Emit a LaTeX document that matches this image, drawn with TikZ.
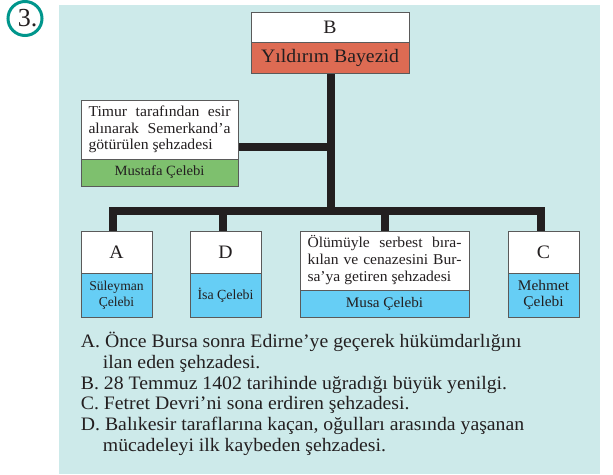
\documentclass[tikz,border=0pt]{standalone}
\usepackage{fontspec}
\setmainfont{Liberation Serif}[FakeStretch=1.04]
\newfontfamily\narrowfont{Liberation Serif}
\usetikzlibrary{backgrounds}
\definecolor{panel}{RGB}{205,234,234}
\definecolor{bred}{RGB}{221,107,83}
\definecolor{bgreen}{RGB}{126,192,110}
\definecolor{bblue}{RGB}{102,206,245}
\definecolor{conncol}{RGB}{35,31,32}
\definecolor{boxgray}{RGB}{90,90,90}
\definecolor{tealnum}{RGB}{0,150,140}
\definecolor{txt}{RGB}{35,31,32}
\begin{document}
\begin{tikzpicture}[x=1pt,y=-1pt,
  box/.style={draw=boxgray,line width=0.8pt,inner sep=0pt,outer sep=0pt,anchor=center,text=txt},
  conn/.style={draw=conncol,line width=8pt,line join=miter,line cap=butt},
  label/.style={font=\fontsize{19}{21}\selectfont},
  qline/.style={anchor=base west,inner sep=0pt,text=txt,font=\fontsize{19}{20.8}\selectfont},
]
\useasboundingbox (0,0) rectangle (613,474);

% number circle
\node[draw=tealnum,line width=3pt,circle,minimum size=34pt,inner sep=0pt] (num) at (25,18.5) {};
\node[inner sep=0pt,text=txt,font=\narrowfont\fontsize{26}{26}\selectfont] (numtext) at (27.5,18.5) {3.};

% top box
\node[box,fill=white,minimum width=158,minimum height=30,label] (Btop) at (330,27) {B};
\node[box,fill=bred,minimum width=158,minimum height=31,label] (Btitle) at (330,57.5) {Yıldırım Bayezid};

% Mustafa
\node[box,fill=white,minimum width=157,minimum height=59,text width=142,align=justify,
  font=\fontsize{15.1}{16.5}\selectfont] (Mtop) at (159.5,129.5)
  {Timur tarafından esir\linebreak alınarak Semerkand’a\linebreak götürülen şehzadesi};
\node[box,fill=bgreen,minimum width=157,minimum height=27,font=\fontsize{14.1}{15}\selectfont] (Mname) at (159.5,172.5) {Mustafa Çelebi};

% A
\node[box,fill=white,minimum width=71,minimum height=42,label] (Atop) at (116.5,252) {A};
\node[box,fill=bblue,minimum width=71,minimum height=44,align=center,
  font=\narrowfont\fontsize{13.6}{15.5}\selectfont] (Aname) at (116.5,295) {Süleyman\\Çelebi};

% D
\node[box,fill=white,minimum width=71,minimum height=42,label] (Dtop) at (225.5,252) {D};
\node[box,fill=bblue,minimum width=71,minimum height=44,
  font=\narrowfont\fontsize{13.9}{15.5}\selectfont] (Dname) at (225.5,295) {İsa Çelebi};

% Musa
\node[box,fill=white,minimum width=169,minimum height=59,text width=154,align=justify,
  font=\fontsize{15}{17}\selectfont] (Stop) at (384.5,260.5)
  {Ölümüyle serbest bıra-\linebreak kılan ve cenazesini Bur-\linebreak sa’ya getiren şehzadesi};
\node[box,fill=bblue,minimum width=169,minimum height=27,font=\fontsize{14.6}{15}\selectfont] (Sname) at (384.5,303.5) {Musa Çelebi};

% C
\node[box,fill=white,minimum width=71,minimum height=42,label] (Ctop) at (543.5,252) {C};
\node[box,fill=bblue,minimum width=71,minimum height=44,align=center,
  font=\fontsize{14.8}{15.8}\selectfont] (Cname) at (543.5,295) {Mehmet\\Çelebi};

\coordinate (bar) at (331,210.5);
\coordinate (mj) at (331,147);

\begin{pgfonlayer}{background}
\fill[panel] (59,5) rectangle (600,474);
\draw[conn] (Btitle.south -| bar) -- ([yshift=4pt]bar);
\draw[conn] ([xshift=-3.5pt]Atop.north) -- ([xshift=-3.5pt]Atop.north |- bar)
  -- ([xshift=-2.5pt]Ctop.north |- bar) -- ([xshift=-2.5pt]Ctop.north);
\draw[conn] ([xshift=-2.5pt]Dtop.north) -- ([xshift=-2.5pt]Dtop.north |- bar);
\draw[conn] ([xshift=0.5pt]Stop.north) -- ([xshift=0.5pt]Stop.north |- bar);
\draw[conn] (Mtop.east |- mj) -- (mj);
\end{pgfonlayer}

% questions
\node[qline] (q1) at (80.7,347.5) {A. Önce Bursa sonra Edirne’ye geçerek hükümdarlığını};
\node[qline] (q2) at (102.7,368.3) {ilan eden şehzadesi.};
\node[qline] (q3) at (80.7,389.1) {B. 28 Temmuz 1402 tarihinde uğradığı büyük yenilgi.};
\node[qline] (q4) at (80.7,409.9) {C. Fetret Devri’ni sona erdiren şehzadesi.};
\node[qline] (q5) at (80.7,430.7) {D. Balıkesir taraflarına kaçan, oğulları arasında yaşanan};
\node[qline] (q6) at (102.7,451.5) {mücadeleyi ilk kaybeden şehzadesi.};
\end{tikzpicture}
\end{document}
